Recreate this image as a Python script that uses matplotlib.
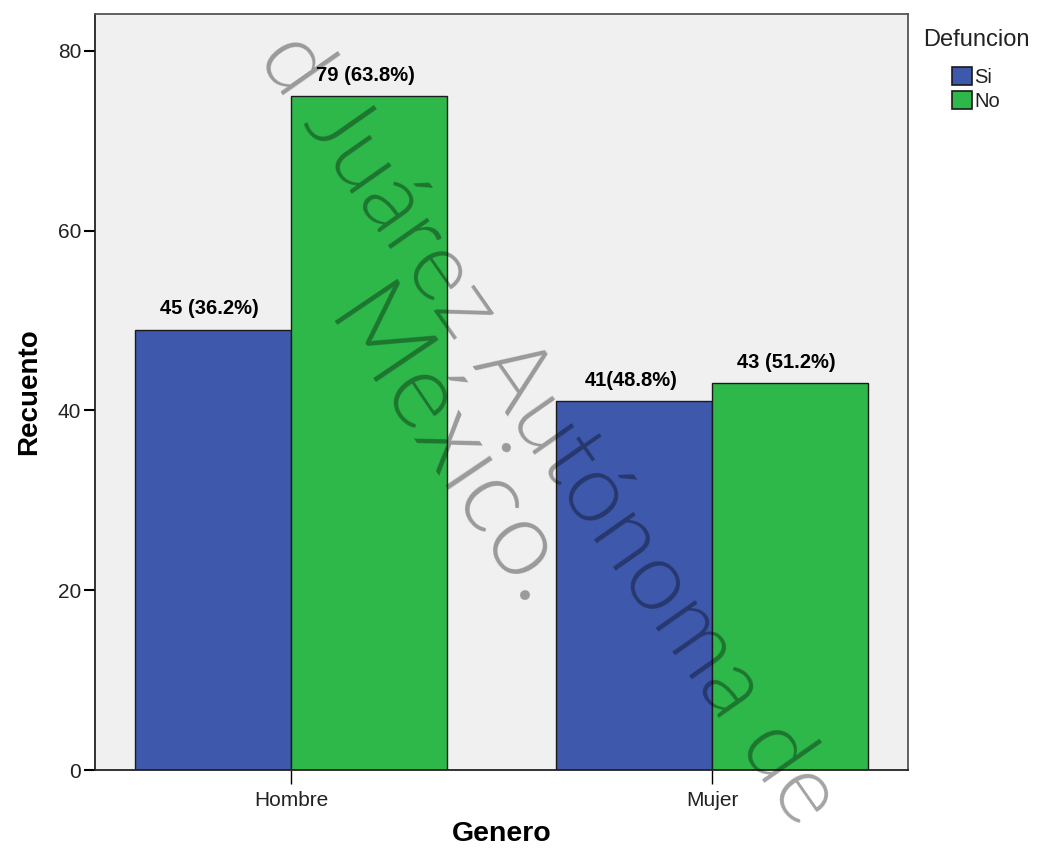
import numpy as np
import matplotlib
matplotlib.use("Agg")
import matplotlib.pyplot as plt
from matplotlib.patches import Patch

# ---------------------------------
# Data
# ---------------------------------
generos = ["Hombre", "Mujer"]
si_counts = [49, 41]
no_counts = [75, 43]
si_labels = ["45 (36.2%)", "41(48.8%)"]
no_labels = ["79 (63.8%)", "43 (51.2%)"]
series_names = ["Si", "No"]
series_colors = ["#3e58ac", "#2eb84a"]

plt.rcParams["font.family"] = ["Liberation Sans", "DejaVu Sans"]

# ---------------------------------
# Figure
# ---------------------------------
fig = plt.figure(figsize=(10.39, 8.5), dpi=100)
ax = fig.add_axes([0.0914, 0.0941, 0.7826, 0.8894])
ax.set_facecolor("#f0f0f0")

x = np.arange(len(generos))
w = 0.37
bars_si = ax.bar(x - w / 2, si_counts, w, color=series_colors[0],
                 edgecolor="#1a1a1a", linewidth=1.0, zorder=2)
bars_no = ax.bar(x + w / 2, no_counts, w, color=series_colors[1],
                 edgecolor="#1a1a1a", linewidth=1.0, zorder=2)

for bars, labels in [(bars_si, si_labels), (bars_no, no_labels)]:
    for b, lab in zip(bars, labels):
        ax.annotate(lab, (b.get_x() + b.get_width() / 2 - 0.008, b.get_height()),
                    xytext=(0, 8), textcoords="offset points",
                    ha="center", va="bottom", fontsize=14.5, fontweight="bold",
                    color="black", zorder=4)

ax.set_xlim(-0.466, 1.466)
ax.set_ylim(0, 84.1)
ax.set_yticks([0, 20, 40, 60, 80])
ax.set_xticks(x)
ax.set_xticklabels(generos)
ax.tick_params(axis="y", direction="out", length=8, width=1.5, pad=2,
               labelsize=15, labelcolor="#222222")
ax.tick_params(axis="x", direction="out", length=10, width=1.0, pad=5,
               labelsize=15, labelcolor="#222222")

for side in ["left", "bottom"]:
    ax.spines[side].set_color("#222222")
    ax.spines[side].set_linewidth(1.3)
for side in ["top", "right"]:
    ax.spines[side].set_color("#555555")
    ax.spines[side].set_linewidth(1.3)

ax.set_ylabel("Recuento", fontsize=20, fontweight="bold", labelpad=11)
ax.set_xlabel("Genero", fontsize=20.5, fontweight="bold", labelpad=8)

# Legend
fig.text(0.888, 0.953, "Defuncion", fontsize=17, color="#222222",
         va="center", ha="left")
handles = [Patch(facecolor=c, edgecolor="#1a1a1a", linewidth=1.2, label=n)
           for c, n in zip(series_colors, series_names)]
leg = fig.legend(handles=handles, loc="upper left", bbox_to_anchor=(0.916, 0.921),
                 frameon=False, handlelength=1.0, handleheight=0.95,
                 handletextpad=0.12, labelspacing=0.22, borderpad=0, borderaxespad=0,
                 fontsize=14.5)
for t in leg.get_texts():
    t.set_color("#222222")

# Watermark
fig.text(0.527, 0.495, "d Juárez Autónoma de", fontsize=70, family="Lato",
         fontweight=300, color="black", alpha=0.36, rotation=-55,
         ha="center", va="center", rotation_mode="anchor", zorder=10)
fig.text(0.43, 0.468, "México.", fontsize=76, family="Lato",
         fontweight=300, color="black", alpha=0.36, rotation=-56,
         ha="center", va="center", rotation_mode="anchor", zorder=10)

fig.savefig("out.png", dpi=100)
